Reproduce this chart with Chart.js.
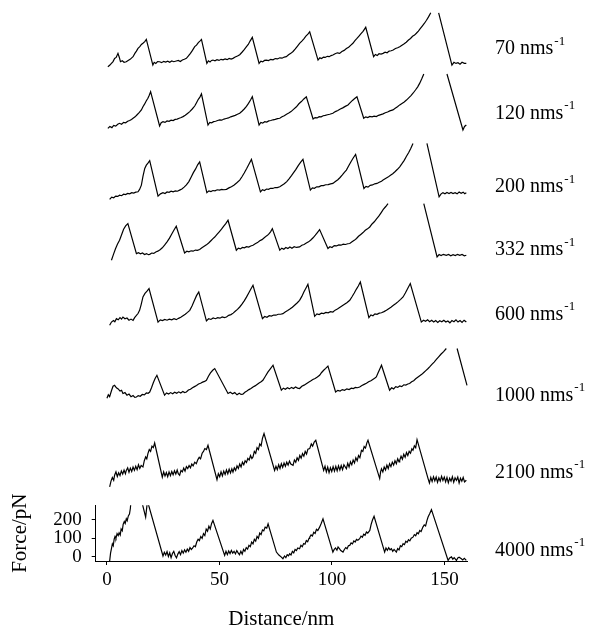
<!DOCTYPE html>
<html>
<head>
<meta charset="utf-8">
<script src="https://cdn.jsdelivr.net/npm/chart.js@4"></script>
<style>
  html, body { margin: 0; padding: 0; background: #fff; }
  #wrap { width: 602px; height: 641px; }
</style>
</head>
<body>
<div id="wrap"><canvas id="forces"></canvas></div>
<script>
// pulling speeds, one trace each (top to bottom)
const speeds = ['70', '120', '200', '332', '600', '1000', '2100', '4000'];

// [distance nm, force pN]; null = gap in the recording
const trace70 = [[0.4,-20],[1.2,-12],[2.0,-2],[2.7,8],[3.4,25],[4.1,30],[4.9,52],[5.5,30],[6.0,7],[6.8,12],[7.6,4],[8.6,7],[9.4,14],[10.3,20],[11.0,28],[11.6,34],[12.4,52],[13.1,64],[13.8,79],[14.6,88],[15.3,100],[16.0,106],[16.8,115],[17.5,127],
  [20.4,-11],[21.0,4],[21.7,-2],[22.5,8],[23.4,7],[24.3,2],[25.2,9],[26.1,5],[27.0,10],[27.9,4],[28.8,11],[29.7,7],[30.8,11],[31.7,14],[32.6,8],[33.5,16],[34.4,20],[35.3,25],[36.2,38],[37.1,52],[38.0,68],[39.0,88],[39.8,96],[40.6,110],[41.3,118],[42.0,127],
  [44.4,-2],[45.1,12],[45.8,6],[46.5,14],[47.1,16],[48.0,12],[48.9,18],[49.8,14],[50.7,20],[51.6,17],[52.5,22],[53.4,18],[54.3,25],[55.2,21],[56.0,25],[57.0,32],[58.0,38],[59.0,45],[60.0,58],[61.0,72],[62.0,88],[62.8,100],[63.6,118],[64.6,138],
  [67.6,-2],[68.4,10],[69.2,6],[70.0,14],[70.8,16],[71.8,13],[72.8,20],[73.8,17],[74.8,24],[75.8,22],[76.8,28],[77.8,26],[78.8,32],[79.7,34],[80.7,44],[81.7,52],[82.7,62],[83.7,76],[84.6,90],[85.6,106],[86.6,118],[87.5,130],[88.4,145],[89.3,155],[90.1,168],
  [93.8,16],[94.6,28],[95.4,24],[96.2,32],[97.0,30],[97.9,36],[98.8,34],[99.6,40],[100.4,43],[101.4,50],[102.4,55],[103.4,52],[104.4,62],[105.4,68],[106.4,78],[107.4,85],[108.4,96],[109.3,106],[110.2,120],[111.1,132],[112.0,145],[112.9,158],[113.8,170],[115.0,192],
  [118.5,34],[119.3,46],[120.1,40],[120.9,50],[121.8,48],[122.7,52],[123.6,58],[124.5,55],[125.4,64],[126.3,66],[127.2,70],[128.2,78],[129.2,82],[130.1,88],[131.1,96],[132.1,104],[133.0,112],[134.0,124],[134.9,132],[135.8,144],[136.7,150],[137.5,160],[138.4,172],[139.3,186],[140.2,200],[141.1,214],[142.0,230],[142.9,248],[143.9,270],
  [145.6,null],[147.4,270],[153.3,-11],[154.2,4],[155.1,-2],[156.0,2],[156.9,-6],[157.8,4],[158.8,-2],[159.7,-2]];

const trace120 = [[0.4,-18],[1.3,-8],[2.2,-14],[3.0,-2],[3.9,-6],[4.8,4],[5.6,9],[6.5,4],[7.4,14],[8.3,12],[9.2,20],[10.1,24],[10.9,30],[11.6,36],[12.5,44],[13.4,55],[14.3,66],[15.3,81],[16.0,98],[16.7,112],[17.5,130],[18.2,144],[18.8,160],[19.4,179],
  [23.4,-5],[24.1,12],[24.9,18],[25.8,14],[26.7,22],[27.6,20],[28.5,26],[29.4,24],[30.3,30],[31.2,32],[32.1,36],[33.0,40],[33.8,45],[34.8,52],[35.8,62],[36.8,72],[37.9,86],[39.0,102],[39.8,120],[40.6,138],[41.3,150],[42.0,167],
  [44.9,0],[45.7,14],[46.5,12],[47.4,18],[48.3,20],[49.2,24],[50.1,27],[51.0,26],[52.0,32],[53.0,35],[54.0,38],[55.0,44],[56.0,48],[57.0,52],[58.0,58],[59.0,63],[60.0,74],[61.0,86],[62.0,100],[62.9,116],[63.8,134],[64.6,152],
  [67.6,0],[68.4,14],[69.2,10],[70.1,18],[71.0,16],[71.9,22],[72.8,24],[73.8,28],[74.8,30],[75.8,34],[76.8,36],[77.8,44],[78.8,50],[79.8,58],[80.8,64],[81.8,72],[82.9,84],[84.2,98],[85.3,114],[86.4,126],[87.5,140],[88.6,152],
  [91.6,32],[92.5,40],[93.4,38],[94.3,45],[95.2,44],[96.1,50],[97.0,52],[98.0,55],[99.0,58],[100.4,63],[101.5,72],[102.6,78],[103.7,86],[104.8,92],[105.9,100],[107.1,108],[108.1,120],[109.1,132],[110.1,142],[111.1,152],
  [114.1,36],[115.0,44],[115.9,40],[116.8,46],[117.8,44],[118.7,48],[119.7,45],[120.7,52],[121.7,56],[122.7,60],[123.7,66],[124.7,70],[125.7,76],[127.1,81],[128.1,90],[129.1,98],[130.1,108],[131.1,116],[132.1,124],[133.1,134],[134.1,146],[135.1,158],[136.1,172],[137.1,188],[138.1,205],[139.0,225],[139.9,248],[140.8,274],
  [146.0,null],[151.1,274],[158.2,-27],[158.9,-8],[159.7,0]];

const trace200 = [[1.2,-34],[2.1,-22],[3.0,-25],[3.9,-16],[4.8,-18],[5.6,-11],[6.5,-14],[7.4,-6],[8.3,-8],[9.2,-2],[10.1,-4],[11.0,2],[11.9,0],[12.8,5],[13.8,7],[14.5,20],[15.3,43],[16.0,90],[16.8,133],[17.5,150],[18.3,162],[19.0,174],
  [22.7,-16],[23.8,-4],[24.9,2],[25.8,-2],[26.7,6],[27.6,4],[28.5,10],[29.4,7],[30.4,12],[31.3,10],[32.3,16],[33.3,22],[34.3,32],[35.3,44],[36.4,62],[37.5,88],[38.4,110],[39.4,130],[40.3,152],[41.2,168],
  [44.4,2],[45.3,12],[46.2,8],[47.1,14],[48.0,12],[49.0,18],[50.0,16],[51.0,20],[52.0,18],[53.1,20],[54.2,28],[55.3,34],[56.4,42],[57.6,54],[59.0,70],[60.0,88],[61.0,108],[62.1,132],[63.2,158],[64.2,181],
  [68.2,7],[69.1,18],[70.0,14],[70.9,22],[71.8,20],[72.7,26],[73.7,25],[74.7,30],[75.7,30],[76.8,34],[77.8,42],[78.8,50],[79.9,62],[81.0,78],[82.0,94],[82.7,106],[83.9,126],[85.0,148],[86.1,166],[87.1,181],
  [90.4,16],[91.3,28],[92.2,26],[93.2,34],[94.2,34],[95.2,40],[96.2,40],[97.2,45],[98.3,46],[99.4,50],[100.4,52],[101.5,62],[102.6,72],[103.6,84],[104.6,98],[105.5,112],[106.4,124],[107.5,148],[108.5,170],[109.5,190],[110.5,208],
  [114.2,25],[115.1,36],[116.0,32],[117.0,42],[118.0,44],[119.0,50],[120.0,52],[121.0,58],[122.0,64],[122.7,70],[123.8,78],[124.9,86],[126.0,96],[127.0,104],[128.1,116],[129.1,128],[130.1,141],[131.1,158],[132.1,176],[133.1,198],[134.1,218],[135.0,240],[136.0,267],
  [139.0,null],[142.2,267],[147.6,-20],[148.5,-4],[149.3,2],[150.2,-4],[151.1,3],[152.0,-2],[152.9,4],[153.8,-2],[154.7,2],[155.6,-4],[156.5,6],[157.4,-1],[158.3,5],[159.0,-3],[159.7,2]];

const trace332 = [[2.0,-27],[2.9,5],[3.8,35],[4.7,60],[5.6,81],[6.5,110],[7.4,140],[8.3,158],[9.3,170],
  [13.1,9],[14.0,14],[14.9,8],[15.8,12],[16.7,4],[17.6,9],[18.4,3],[19.0,5],[19.9,12],[20.8,10],[21.7,18],[22.6,22],[23.6,30],[24.6,40],[25.6,54],[26.7,72],[27.8,92],[28.8,114],[29.8,136],[30.8,156],
  [34.5,12],[35.5,22],[36.4,18],[37.4,24],[38.3,22],[39.3,28],[40.2,26],[41.2,31],[42.2,40],[43.2,48],[44.2,56],[45.2,66],[46.2,78],[47.0,88],[47.9,98],[48.9,112],[49.9,126],[50.9,140],[51.9,156],[52.8,170],[53.8,188],
  [57.5,27],[58.4,38],[59.3,34],[60.2,42],[61.1,40],[62.0,46],[63.0,44],[63.9,50],[64.9,54],[65.9,62],[66.9,68],[67.9,78],[68.9,84],[69.9,94],[70.9,104],[71.8,112],[72.7,126],[73.5,143],
  [76.8,27],[77.7,38],[78.6,32],[79.5,42],[80.4,36],[81.3,44],[82.2,38],[83.2,46],[84.2,42],[85.6,45],[86.6,54],[87.6,58],[88.6,66],[89.6,72],[90.6,82],[91.6,94],[92.6,108],[93.5,122],[94.5,138],
  [98.2,36],[99.1,46],[100.0,42],[101.0,52],[102.0,50],[103.0,56],[104.0,54],[105.0,60],[106.0,58],[107.0,62],[107.9,63],[108.9,72],[109.9,80],[110.9,90],[111.8,102],[112.8,112],[113.8,122],[114.8,134],[115.8,142],[116.8,152],[117.8,168],[118.8,180],[119.8,196],[120.8,210],[121.8,228],[122.8,246],[123.9,262],[124.9,278],
  [132.0,null],[140.8,278],[146.7,-9],[147.6,4],[148.5,-2],[149.5,5],[150.8,0],[151.8,4],[152.8,-3],[153.8,3],[154.8,-2],[155.8,5],[156.8,0],[157.8,4],[158.8,-3],[159.7,0]];

const trace600 = [[1.2,-21],[2.0,-4],[2.9,4],[3.5,-2],[4.2,14],[5.0,8],[5.8,20],[6.5,12],[7.1,23],[8.0,14],[8.9,18],[9.8,6],[10.7,12],[11.6,5],[12.3,20],[13.0,30],[13.8,42],[14.5,59],[15.2,90],[16.0,131],[16.9,150],[17.8,162],[18.7,176],
  [22.7,-4],[23.7,8],[24.7,4],[25.7,10],[26.7,6],[27.7,12],[28.8,8],[29.8,14],[30.8,9],[31.8,16],[32.8,22],[33.8,30],[34.8,38],[35.8,48],[36.8,59],[37.8,82],[38.8,110],[39.8,138],[40.8,158],
  [44.2,2],[45.2,14],[46.2,10],[47.2,18],[48.2,14],[49.2,20],[50.2,17],[51.2,24],[52.2,20],[53.1,23],[54.1,32],[55.1,36],[56.1,44],[57.0,54],[58.0,64],[59.0,77],[60.0,92],[61.0,110],[62.0,130],[63.0,152],[63.9,172],[64.9,194],
  [69.1,14],[70.1,26],[71.1,22],[72.1,30],[73.1,28],[74.1,34],[75.1,33],[76.1,38],[77.2,38],[78.2,41],[79.2,50],[80.3,58],[81.3,66],[82.4,76],[83.5,88],[84.6,100],[85.6,113],[86.6,134],[87.5,158],[88.4,178],[89.3,199],
  [92.3,27],[93.3,40],[94.3,36],[95.3,44],[96.3,42],[97.3,48],[98.3,46],[99.3,52],[100.4,50],[101.4,60],[102.4,66],[103.4,74],[104.4,82],[105.4,90],[106.6,100],[107.9,113],[108.9,132],[109.9,152],[110.8,172],[111.7,190],[112.6,211],
  [116.4,20],[117.3,34],[118.2,30],[119.1,40],[120.0,38],[121.0,44],[122.0,46],[123.1,52],[124.2,59],[125.2,68],[126.2,76],[127.3,86],[128.4,96],[129.4,106],[130.5,118],[131.6,131],[132.6,152],[133.7,178],[134.8,203],
  [139.7,-4],[140.7,6],[141.6,0],[142.5,8],[143.4,-2],[144.3,6],[145.2,-4],[146.1,4],[147.0,-6],[147.9,3],[148.8,-2],[149.7,6],[150.6,-4],[151.5,2],[152.4,-8],[153.3,4],[154.2,-2],[155.1,8],[156.0,-4],[156.9,4],[157.8,-6],[158.7,6],[159.7,-4]];

const trace1000 = [[0.0,22],[0.6,40],[1.2,30],[2.0,62],[2.7,86],[3.4,91],[4.2,78],[5.0,72],[5.8,60],[6.5,64],[7.1,47],[8.0,52],[8.9,38],[9.8,44],[10.7,30],[11.6,36],[12.4,26],[13.1,28],[13.9,36],[14.8,32],[15.7,42],[16.6,40],[17.5,50],[18.3,48],[19.0,55],[19.8,78],[20.6,105],[21.4,128],[22.2,145],
  [25.6,38],[26.5,50],[27.4,44],[28.3,52],[29.2,46],[30.1,54],[31.0,48],[31.9,56],[32.8,50],[33.7,58],[34.5,52],[35.3,55],[36.2,66],[37.1,70],[38.0,78],[38.9,84],[39.8,90],[40.7,98],[41.6,102],[42.5,108],[43.4,112],[44.2,118],[45.1,140],[46.0,158],[47.0,172],[47.9,181],
  [53.8,47],[54.8,54],[55.8,46],[56.8,52],[57.8,40],[58.8,48],[59.6,42],[60.4,43],[61.3,54],[62.2,60],[63.1,68],[64.0,74],[64.9,82],[65.8,88],[66.7,96],[67.6,104],[68.5,110],[69.3,118],[70.4,140],[71.5,162],[72.6,180],[73.8,199],
  [77.5,65],[78.4,76],[79.3,70],[80.2,78],[81.1,72],[82.0,80],[82.9,74],[83.8,82],[84.7,76],[85.6,74],[86.6,86],[87.6,92],[88.6,100],[89.6,108],[90.5,114],[91.5,122],[92.5,128],[93.5,136],[94.5,145],[95.4,160],[96.3,172],[97.2,182],[98.2,194],
  [101.6,55],[102.6,64],[103.6,60],[104.6,68],[105.6,64],[106.6,72],[107.6,68],[108.6,76],[109.5,74],[110.4,80],[111.3,78],[112.3,82],[113.3,90],[114.3,96],[115.3,102],[116.3,110],[117.3,116],[118.3,124],[119.1,130],[119.7,136],[120.4,156],[121.2,178],[122.0,199],
  [125.6,65],[126.5,78],[127.4,72],[128.3,84],[129.2,80],[130.1,88],[131.0,84],[131.9,94],[132.8,92],[133.7,98],[134.5,101],[135.4,110],[136.3,116],[137.2,126],[138.1,134],[139.0,142],[139.9,150],[140.8,160],[141.7,170],[142.6,180],[143.4,190],[144.4,204],[145.4,216],[146.4,230],[147.4,244],[148.4,258],[149.6,272],[150.8,289],
  [153.0,null],[155.6,289],[160.0,91]];

const trace2100 = [[1.2,-41],[1.8,-10],[2.4,10],[3.0,-5],[3.4,22],[4.0,40],[4.6,15],[5.2,35],[5.8,20],[6.4,45],[7.0,28],[7.6,50],[8.2,30],[8.6,48],[9.2,62],[9.8,38],[10.4,60],[11.0,42],[11.6,66],[12.2,48],[12.8,70],[13.4,52],[14.0,78],[14.6,58],[15.2,74],[16.0,66],[16.6,100],[17.2,120],[17.7,110],[18.2,138],[18.8,160],[19.4,150],[20.0,178],[20.6,170],[21.2,195],
  [24.6,12],[25.2,40],[25.8,18],[26.4,36],[27.0,14],[27.6,40],[28.2,20],[28.8,42],[29.4,24],[30.0,46],[30.6,28],[31.2,50],[31.7,30],[32.3,22],[32.9,48],[33.5,40],[34.1,60],[34.7,44],[35.3,68],[35.9,58],[36.5,74],[37.1,62],[37.7,82],[38.3,72],[39.0,92],[39.7,84],[40.4,106],[41.0,118],[41.6,110],[42.3,140],[42.9,150],[43.5,165],[44.2,160],[44.9,183],
  [48.9,-2],[49.5,30],[50.1,14],[50.7,40],[51.3,18],[51.9,44],[52.5,26],[53.1,50],[53.7,30],[54.3,54],[54.9,34],[55.5,56],[56.0,39],[56.6,62],[57.2,48],[57.8,72],[58.4,58],[59.0,82],[59.6,66],[60.2,92],[60.8,78],[61.4,100],[62.0,90],[62.6,112],[63.2,104],[63.8,128],[64.4,112],[64.9,120],[65.5,150],[66.1,140],[66.7,170],[67.3,160],[67.9,190],[68.5,180],[69.1,220],[69.8,246],
  [74.5,48],[75.1,70],[75.7,52],[76.3,78],[76.9,58],[77.5,84],[78.1,64],[78.7,88],[79.3,70],[79.9,92],[80.5,76],[81.1,98],[81.7,82],[82.7,75],[83.3,104],[83.9,92],[84.5,116],[85.1,102],[85.7,128],[86.3,114],[86.9,138],[87.5,124],[88.1,150],[88.7,136],[89.3,162],[90.1,165],[90.8,190],[91.4,178],[92.1,200],[92.8,210],
  [96.3,48],[96.9,70],[97.5,40],[98.1,66],[98.7,36],[99.3,62],[99.9,42],[100.5,68],[101.1,44],[101.7,70],[102.3,46],[102.9,72],[103.5,50],[104.1,74],[104.7,52],[105.3,78],[106.4,57],[107.0,86],[107.6,66],[108.2,94],[108.8,78],[109.4,104],[110.0,88],[110.6,116],[111.2,100],[111.8,128],[112.4,116],[113.1,156],[113.7,150],[114.3,176],[114.9,168],[115.5,196],[116.0,210],
  [121.2,4],[121.6,40],[122.0,57],[122.6,40],[123.2,66],[123.8,50],[124.4,76],[125.0,58],[125.6,84],[126.2,68],[126.8,92],[127.4,76],[128.0,100],[128.6,84],[129.2,110],[129.8,94],[130.1,102],[130.7,124],[131.3,108],[131.9,134],[132.5,118],[133.1,144],[133.7,128],[134.3,150],[134.9,140],[135.5,164],[136.0,156],[136.6,180],[137.2,170],[137.8,213],
  [142.7,4],[143.3,-20],[143.9,10],[144.5,-12],[145.1,14],[145.7,-8],[146.3,12],[146.9,-16],[147.5,8],[148.1,-10],[148.7,16],[149.3,-6],[149.9,12],[150.5,-14],[151.1,10],[151.7,-18],[152.3,6],[152.9,-10],[153.5,14],[154.1,-16],[154.7,8],[155.3,-6],[155.9,12],[156.5,-20],[157.1,6],[157.7,-10],[158.3,10],[158.9,-14],[159.7,-5]];

const trace4000 = [[1.2,-22],[1.6,20],[2.0,45],[2.4,70],[2.8,60],[3.2,95],[3.6,110],[4.0,100],[4.5,125],[5.0,115],[5.4,130],[5.9,118],[6.3,150],[6.8,140],[7.2,175],[7.7,190],[8.1,180],[8.6,205],[9.0,195],[9.5,220],[10.0,230],[10.4,260],[10.8,320],
  [12.8,null],[14.8,330],[17.2,214],[18.0,300],
  [24.9,5],[25.5,25],[26.1,10],[26.7,28],[27.3,2],[27.9,22],[28.5,-4],[29.1,18],[29.7,30],[30.3,8],[30.9,-5],[31.5,15],[32.1,28],[32.7,12],[33.3,34],[33.9,20],[34.5,38],[35.1,25],[35.7,42],[36.3,30],[36.9,50],[37.5,40],[38.1,48],[38.7,60],[39.3,55],[39.9,80],[40.5,95],[41.1,88],[41.7,110],[42.3,100],[42.9,125],[43.5,115],[44.1,150],[44.7,138],[45.3,165],[45.9,150],[46.5,180],[47.1,196],
  [52.3,8],[52.9,30],[53.5,12],[54.1,32],[54.7,18],[55.3,35],[55.9,20],[56.5,30],[57.1,16],[57.7,34],[58.3,22],[58.9,12],[59.5,30],[60.1,15],[60.7,40],[61.3,30],[61.9,50],[62.5,42],[63.1,62],[63.7,55],[64.3,80],[64.9,70],[65.5,95],[66.1,85],[66.7,110],[67.3,100],[67.9,128],[68.5,120],[69.1,145],[69.7,140],[70.3,160],[71.0,155],[71.6,178],
  [75.3,26],[76.4,10],[77.5,-1],[78.2,-10],[78.9,5],[79.5,-4],[80.1,12],[80.7,6],[81.2,17],[81.8,10],[82.4,30],[83.0,22],[83.6,40],[84.2,34],[84.8,48],[85.6,44],[86.2,62],[86.8,55],[87.4,72],[88.0,68],[88.6,88],[89.2,82],[89.8,100],[90.1,106],[90.7,118],[91.3,112],[91.9,132],[92.5,126],[93.1,148],[93.7,142],[94.5,160],[95.2,180],[96.0,205],
  [100.4,26],[101.0,40],[101.6,48],[102.2,36],[102.7,53],[103.3,44],[103.9,34],[104.9,26],[105.5,40],[106.1,50],[106.7,44],[107.3,60],[107.9,62],[108.5,75],[109.1,70],[109.7,86],[110.3,80],[110.9,94],[111.5,90],[112.3,98],[112.9,112],[113.5,106],[114.1,122],[114.7,116],[115.3,134],[115.9,128],[116.8,142],[117.4,175],[118.0,198],[118.7,218],
  [123.4,26],[124.0,48],[124.6,36],[125.2,50],[125.8,38],[126.4,44],[127.0,30],[127.6,40],[128.6,26],[129.2,45],[129.8,38],[130.4,60],[131.0,55],[131.6,71],[132.2,66],[132.8,84],[133.4,78],[134.0,92],[134.6,86],[135.2,100],[136.0,106],[136.6,120],[137.2,114],[137.8,130],[138.4,124],[139.0,142],[139.6,136],[140.4,160],[141.0,172],[141.6,166],[142.2,195],[142.7,214],[143.4,232],[144.2,254],
  [151.6,-19],[152.3,-6],[153.1,0],[153.7,-12],[154.3,-4],[155.3,-19],[155.9,-6],[156.5,-2],[157.5,-10],[158.1,-16],[158.8,-8],[159.7,-19]];

const traces = [trace70, trace120, trace200, trace332, trace600, trace1000, trace2100, trace4000];

// axis ticks
const distanceTicks = [0, 50, 100, 150];
const forceTicks = [0, 100, 200];

// force window (pN) given to each trace's strip, same pN-per-pixel everywhere
const stripMin = [-64, -81, -65, -70, -102, -54, -140, -22];
const stripMax = [328, 269, 285, 269, 285, 333, 360, 277];
// force level where each speed label sits
const labelLevel = [75, 59, 32, 27, 37, 37, 37, 35];

const serif = '"Liberation Serif", "Times New Roman", serif';
Chart.defaults.font.family = serif;
Chart.defaults.color = '#000';

const last = traces.length - 1;

// no extra room for half labels at the strip ends
const noEdgePadding = s => {
  s.paddingTop = 0;
  s.paddingBottom = 0;
  s.paddingLeft = 0;
  s.paddingRight = 0;
};

const scales = {
  x: {
    type: 'linear',
    min: -5,
    max: 160,
    afterBuildTicks: s => { s.ticks = distanceTicks.map(v => ({ value: v })); },
    afterFit: noEdgePadding,
    ticks: { font: { size: 19 }, color: '#000', padding: 4, autoSkip: false, maxRotation: 0 },
    grid: { drawOnChartArea: false, tickLength: 4, color: '#000' },
    border: { color: '#000' },
    title: { display: true, text: 'Distance/nm', font: { size: 21 }, color: '#000', padding: { top: 11, bottom: 0 } }
  }
};

traces.forEach((t, i) => {
  const bottom = i === last;
  scales['y' + i] = {
    type: 'linear',
    position: 'left',
    stack: 'traces',
    stackWeight: stripMax[i] - stripMin[i],
    weight: traces.length - i,
    min: stripMin[i],
    max: stripMax[i],
    display: bottom,
    afterBuildTicks: s => { s.ticks = forceTicks.map(v => ({ value: v })); },
    afterFit: noEdgePadding,
    ticks: { font: { size: 19 }, color: '#000', padding: 10, autoSkip: false },
    grid: { drawOnChartArea: false, tickLength: 4, color: '#000' },
    border: { color: '#000' },
    title: { display: bottom, text: 'Force/pN', font: { size: 21 }, color: '#000', padding: { top: 0, bottom: 10 } }
  };
});

const speedLabels = {
  id: 'speedLabels',
  afterDraw(chart) {
    const ctx = chart.ctx;
    const x = chart.chartArea.right + 28;
    ctx.save();
    ctx.fillStyle = '#000';
    ctx.textBaseline = 'middle';
    speeds.forEach((s, i) => {
      const y = chart.scales['y' + i].getPixelForValue(labelLevel[i]);
      const main = s + ' nms';
      ctx.font = '20px ' + serif;
      ctx.fillText(main, x, y);
      const w = ctx.measureText(main).width;
      ctx.font = '13px ' + serif;
      ctx.fillText('-1', x + w + 1, y - 8);
    });
    ctx.restore();
  }
};

new Chart(document.getElementById('forces'), {
  type: 'line',
  data: {
    datasets: traces.map((t, i) => ({
      label: speeds[i] + ' nms-1',
      data: t.map(p => ({ x: p[0], y: p[1] })),
      yAxisID: 'y' + i,
      borderColor: '#000',
      borderWidth: 1.2,
      pointRadius: 0,
      tension: 0,
      spanGaps: false,
      clip: i === last ? 0 : false
    }))
  },
  options: {
    responsive: true,
    maintainAspectRatio: false,
    animation: false,
    layout: { padding: { left: 8, right: 135, top: 2, bottom: 9 } },
    plugins: { legend: { display: false }, tooltip: { enabled: false } },
    scales
  },
  plugins: [speedLabels]
});
</script>
</body>
</html>
